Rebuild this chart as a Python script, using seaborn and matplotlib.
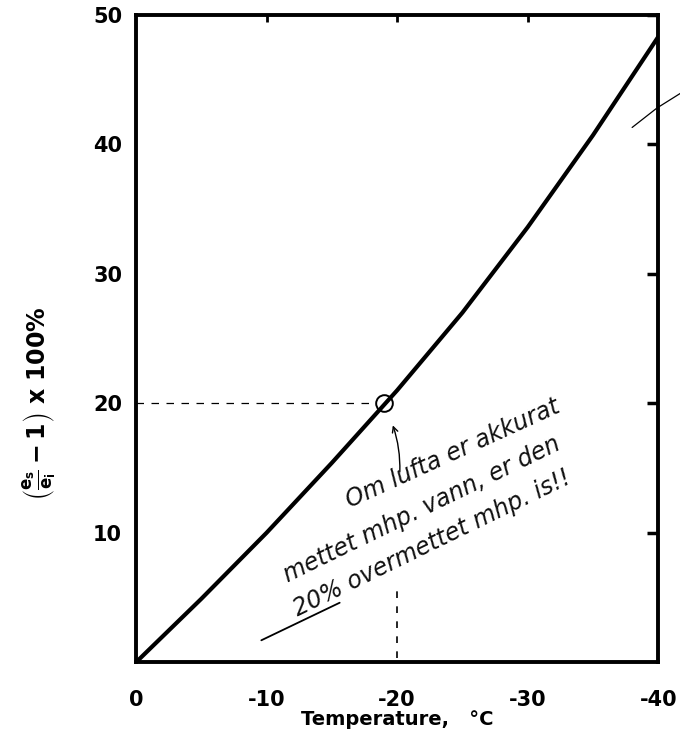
import numpy as np
import pandas as pd
import matplotlib
matplotlib.use('Agg')
import matplotlib.pyplot as plt
import seaborn as sns

# Temperatur (grader C) og overmetning mhp. is (%)
temperature = [0, -5, -10, -15, -20, -25, -30, -35, -40]
supersat = [0.0, 4.9, 10.0, 15.4, 21.0, 27.0, 33.6, 40.7, 48.3]

x_ticks = [0, -10, -20, -30, -40]
x_labels = ['0', '-10', '-20', '-30', '-40']
y_ticks = [10, 20, 30, 40, 50]
y_labels = ['10', '20', '30', '40', '50']

# markert punkt og notat
mark_t, mark_s = -19, 20
note_lines = ['Om lufta er akkurat', 'mettet mhp. vann, er den', '20% overmettet mhp. is!!']

df = pd.DataFrame({'T': temperature, 'S': supersat})

sns.set_style('white')
plt.rcParams['font.family'] = ['DejaVu Sans']
plt.rcParams['mathtext.default'] = 'bf'
plt.rcParams['text.color'] = 'black'
plt.rcParams['xtick.color'] = 'black'
plt.rcParams['ytick.color'] = 'black'
plt.rcParams['axes.labelcolor'] = 'black'

fig = plt.figure(figsize=(6.8, 7.4), dpi=100)
ax = fig.add_axes([0.2, 0.105, 0.768, 0.875])

sns.lineplot(data=df, x='T', y='S', color='black', linewidth=3, ax=ax)

# stiplete hjelpelinjer
ax.plot([0, mark_t + 0.6], [mark_s, mark_s], color='black', lw=0.9,
        linestyle=(0, (6, 6)))
ax.plot([-20, -20], [0.3, 6], color='black', lw=1.2, linestyle=(0, (4, 5)))
ax.plot([mark_t], [mark_s], marker='o', markersize=12, markerfacecolor='none',
        markeredgecolor='black', markeredgewidth=1.4)

# pil fra notatet
ax.annotate('', xy=(-19.6, 18.5), xytext=(-20.2, 14.5),
            arrowprops=dict(arrowstyle='->', color='black', lw=1.0,
                            connectionstyle='arc3,rad=0.1'))

hand = dict(fontsize=17, style='oblique', weight='light', family=['DejaVu Sans'],
            color='#111111', ha='center', va='center')
ax.text(-24.3, 16.1, note_lines[0], rotation=24.5, **hand)
ax.text(-21.9, 11.8, note_lines[1], rotation=26, **hand)
ax.text(-22.7, 9.2, note_lines[2], rotation=26, **hand)
ax.plot([-9.6, -15.6], [1.7, 4.6], color='black', lw=1.3)

# strek i hjørnet oppe til høyre
ax.plot([-38.0, -39.9, -41.8], [41.3, 42.8, 44.0], color='black', lw=0.9,
        clip_on=False)

ax.set_xlim(0, -40)
ax.set_ylim(0, 50)
ax.set_xticks(x_ticks)
ax.set_xticklabels(x_labels, fontsize=15, fontweight='bold')
ax.set_yticks(y_ticks)
ax.set_yticklabels(y_labels, fontsize=15, fontweight='bold')
ax.tick_params(axis='both', direction='in', length=8, width=2.5, pad=10)
ax.tick_params(axis='y', right=True)
ax.tick_params(axis='x', pad=20)

# korte streker langs toppen
top = ax.secondary_xaxis('top')
top.set_xticks([-10, -20, -30])
top.tick_params(direction='in', length=5, width=2, labeltop=False)
top.spines['top'].set_visible(False)

for s in ax.spines.values():
    s.set_linewidth(2.8)
    s.set_color('black')

ax.set_xlabel('Temperature,   °C', fontsize=14, fontweight='bold', labelpad=0)
ax.set_ylabel(r'$\left(\frac{e_s}{e_i}-1\right)$ x 100%', fontsize=17,
              fontweight='bold')
ax.yaxis.set_label_coords(-0.15, 0.40)

fig.savefig('out.png', dpi=100)
